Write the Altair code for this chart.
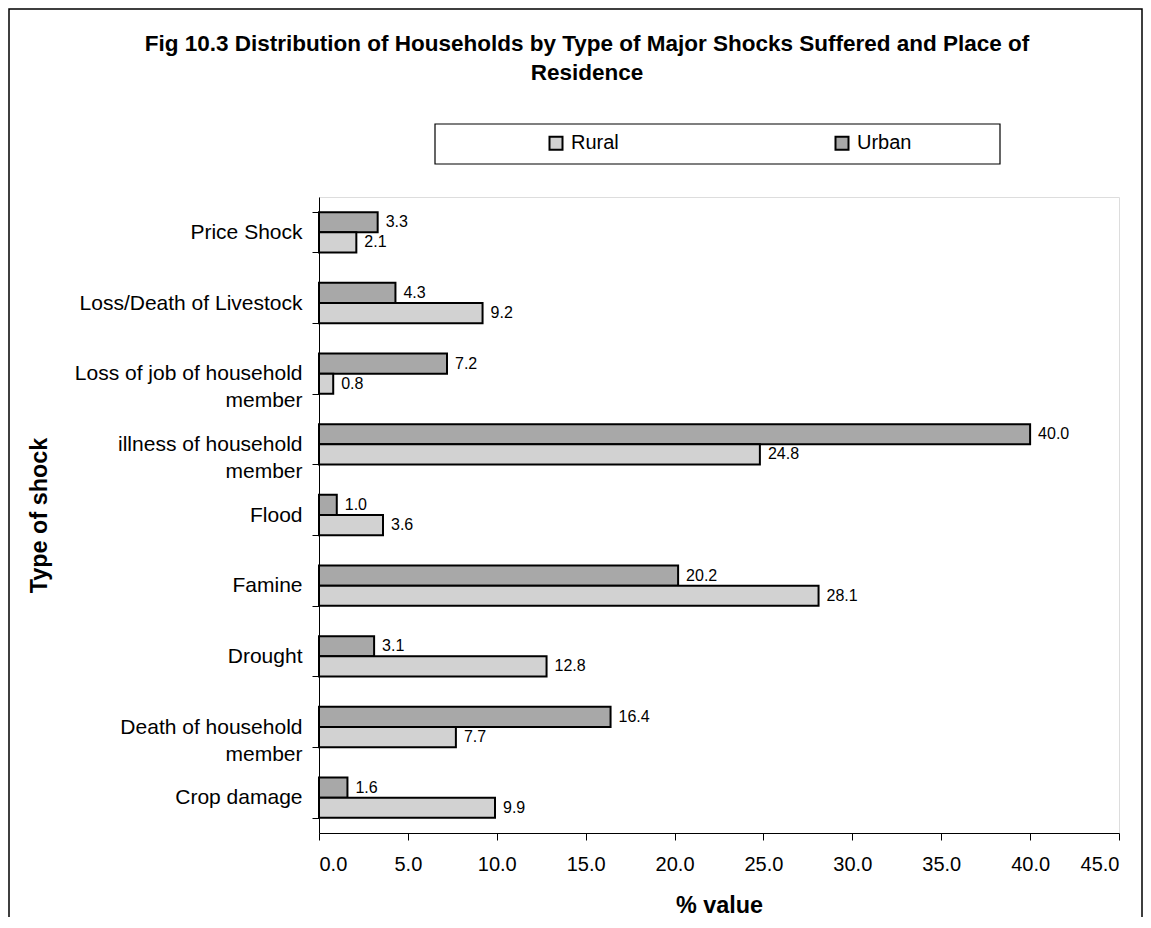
import altair as alt
import pandas as pd

FONT = "Liberation Sans"

categories = [
    "Price Shock",
    "Loss/Death of Livestock",
    "Loss of  job of household\nmember",
    "illness of household\nmember",
    "Flood",
    "Famine",
    "Drought",
    "Death of household\nmember",
    "Crop damage",
]
rural = [2.1, 9.2, 0.8, 24.8, 3.6, 28.1, 12.8, 7.7, 9.9]
urban = [3.3, 4.3, 7.2, 40.0, 1.0, 20.2, 3.1, 16.4, 1.6]
places = ["Rural", "Urban"]
place_colors = ["#d2d2d2", "#a8a8a8"]
x_ticks = [0, 5, 10, 15, 20, 25, 30, 35, 40, 45]
title_lines = [
    "Fig 10.3 Distribution of Households by Type of Major Shocks Suffered and Place of",
    "Residence",
]

rows = []
for c, r, u in zip(categories, rural, urban):
    rows.append({"shock": c, "place": "Urban", "value": u})
    rows.append({"shock": c, "place": "Rural", "value": r})
df = pd.DataFrame(rows)

base = alt.Chart(df).encode(
    y=alt.Y(
        "shock:N",
        sort=categories,
        scale=alt.Scale(paddingInner=0.43, paddingOuter=0.215),
        axis=alt.Axis(
            title="Type of shock",
            labelExpr="split(datum.label, '\\n')",
            labelFont=FONT,
            labelFontSize=21,
            labelColor="black",
            labelLineHeight=27,
            labelPadding=10,
            labelLimit=400,
            tickSize=7,
            tickColor="black",
            tickBand="extent",
            domainColor="black",
            titleFont=FONT,
            titleFontSize=23.4,
            titleFontWeight="bold",
            titleColor="black",
            titleX=-273,
            titleY=318,
            titleAngle=-90,
            titleAlign="center",
            titleBaseline="alphabetic",
            grid=False,
        ),
    ),
    yOffset=alt.YOffset("place:N", sort=["Urban", "Rural"],
                        scale=alt.Scale(paddingInner=0, paddingOuter=0)),
    x=alt.X(
        "value:Q",
        scale=alt.Scale(domain=[0, 45], nice=False),
        axis=alt.Axis(
            title="% value",
            values=x_ticks,
            format=".1f",
            labelFont=FONT,
            labelFontSize=20,
            labelColor="black",
            labelPadding=14,
            tickSize=7,
            tickColor="black",
            domainColor="black",
            titleFont=FONT,
            titleFontSize=23.4,
            titleFontWeight="bold",
            titleColor="black",
            titleY=79,
            titleBaseline="alphabetic",
            grid=False,
        ),
    ),
)

bars = base.mark_bar(stroke="black", strokeWidth=2).encode(
    color=alt.Color(
        "place:N",
        scale=alt.Scale(domain=places, range=place_colors),
        legend=alt.Legend(
            title=None,
            orient="none",
            legendX=227,
            legendY=-64,
            direction="horizontal",
            symbolType="square",
            symbolSize=169,
            symbolStrokeColor="black",
            symbolStrokeWidth=2,
            symbolOpacity=1,
            labelFont=FONT,
            labelFontSize=20,
            labelColor="black",
            labelOffset=5,
            columnPadding=205,
            gridAlign="all",
            padding=0,
        ),
    )
)

labels = base.mark_text(
    align="left", baseline="middle", dx=8, font=FONT, fontSize=16, color="black"
).encode(text=alt.Text("value:Q", format=".1f"))

frame_df = pd.DataFrame({"k": [0]})
outer_box = alt.Chart(frame_df).mark_rect(
    fill=None, stroke="black", strokeWidth=1.5
).encode(x=alt.value(-310), x2=alt.value(823), y=alt.value(-188), y2=alt.value(760))

legend_box = alt.Chart(frame_df).mark_rect(
    fill="white", stroke="black", strokeWidth=1.2
).encode(x=alt.value(116), x2=alt.value(681), y=alt.value(-73), y2=alt.value(-33))

chart = (
    alt.layer(outer_box, legend_box, bars, labels)
    .properties(
        width=800,
        height=636,
        padding={"left": 311, "top": 189, "right": 24, "bottom": 84},
        autosize=alt.AutoSizeParams(type="none"),
        title=alt.TitleParams(
            text=title_lines,
            font=FONT,
            fontSize=22.5,
            fontWeight="bold",
            color="black",
            anchor="middle",
            dx=-132,
            lineHeight=29,
            baseline="alphabetic",
            offset=0,
            dy=94,
        ),
    )
    .configure_view(stroke="#808080", strokeWidth=2.5)
    .configure(background="white")
)

chart.save("out.html", embed_options={"renderer": "svg", "actions": False})
